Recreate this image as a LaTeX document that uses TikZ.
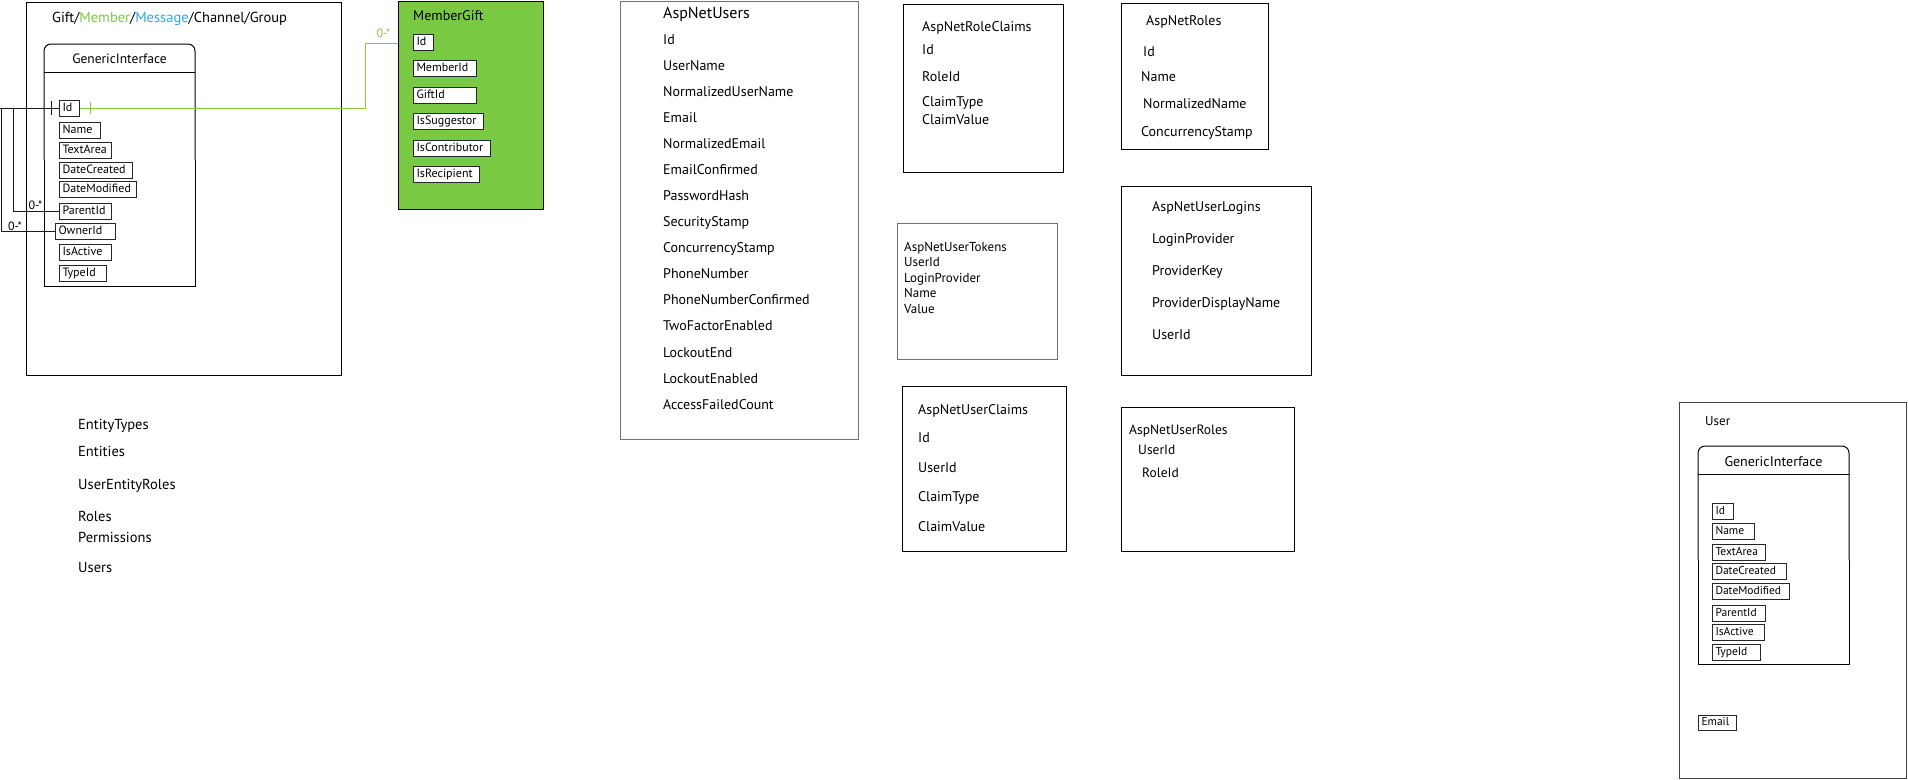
\documentclass[tikz,border=0pt]{standalone}
\usepackage{fontspec}
\setmainfont{PT Sans}
\definecolor{mgreen}{HTML}{7AC943}
\definecolor{mblue}{HTML}{29ABE2}
\definecolor{glinec}{HTML}{8CC63F}
\newcommand\fsz[1]{\fontsize{#1}{#1}\selectfont}
\newcommand\fl[2]{\makebox[#1][l]{#2}}
\begin{document}
\begin{tikzpicture}[x=1pt,y=-1pt,
  lbl/.style={anchor=west, inner sep=0pt, text height=.7em, text depth=0pt, font=\fsz{13.5}},
  ttl/.style={lbl, font=\fsz{14}},
  fbox/.style={draw=black!85, line width=1pt, anchor=west, inner xsep=3pt, inner ysep=0pt,
    minimum height=16pt, text height=.72em, text depth=.12em, font=\fsz{12}},
  tbl/.style={draw, line width=1pt, anchor=north west, inner sep=0pt},
  gi/.style={line width=1pt},
  conn/.style={draw=black!90, line width=1pt},
  gconn/.style={draw=glinec, line width=1pt},
  card/.style={inner sep=0pt, font=\fsz{12}},
]
\useasboundingbox (0,0) rectangle (1908,779);

% ---------- Left group ----------
\node[tbl, minimum width=315pt, minimum height=373pt] (gift) at (25.5,2) {};
\node[lbl, font=\fsz{14.5}] (gtitle) at (52,19) {Gift/\textcolor{mgreen}{Member}/\textcolor{mblue}{Message}/Channel/Group};
\draw[gi, rounded corners=7pt] (44,160) -- (44,44) -- (195,44) -- (195,160);
\draw[gi] (44,160) -- (44,286) -- (195,286) -- (195,160);
\draw[gi] (44,72) -- (195,72);
\node[inner sep=0pt, font=\fsz{13.5}] (gtitle2) at (119.5,59) {GenericInterface};

\node[fbox] (gId) at (59,108) {\fl{14pt}{Id}};
\node[fbox] (gName) at (59,130) {\fl{35pt}{Name}};
\node[fbox] (gText) at (59,150.5) {\fl{46pt}{TextArea}};
\node[fbox] (gDC) at (59,170) {\fl{67pt}{DateCreated}};
\node[fbox] (gDM) at (59,189.5) {\fl{71pt}{DateModified}};
\node[fbox] (gParent) at (59,211) {\fl{46pt}{ParentId}};
\node[fbox] (gOwner) at (55,231) {\fl{54pt}{OwnerId}};
\node[fbox] (gActive) at (59,252) {\fl{46pt}{IsActive}};
\node[fbox] (gType) at (59,273) {\fl{41pt}{TypeId}};

% black self connectors
\coordinate (jo) at (1,0);
\coordinate (ji) at (13,0);
\coordinate (lend) at (0,0);
\draw[conn] (gId.west) -- (gId.west -| lend);
\draw[conn] (gId.west -| jo) -- (jo |- gOwner.west) -- (gOwner.west);
\draw[conn] (gId.west -| ji) -- (ji |- gParent.west) -- (gParent.west);
\draw[conn] ([xshift=-8pt]gId.west) ++(0,-7) -- ++(0,14);
\node[card] (c1) at (35.5,205) {0-*};
\node[card] (c2) at (15,226) {0-*};

% green connector
\node[tbl, minimum width=145pt, minimum height=208pt, fill=mgreen] (mg) at (398,1) {};
\coordinate (gbend) at (365,43);
\draw[gconn] (gId.east) -| (gbend) -- (gbend -| mg.west);
\draw[gconn] ([xshift=10pt]gId.east) ++(0,-6) -- ++(0,12);
\node[card, text=glinec] (c3) at (383.5,33) {0-*};

% ---------- MemberGift ----------
\node[lbl, font=\fsz{14}] (mgt) at (413,17) {MemberGift};
\node[fbox, fill=white] (mId) at (413,42) {\fl{14pt}{Id}};
\node[fbox, fill=white] (mMember) at (413,68.5) {\fl{57pt}{MemberId}};
\node[fbox, fill=white] (mGift) at (413,95) {\fl{57pt}{GiftId}};
\node[fbox, fill=white] (mSugg) at (413,121) {\fl{64pt}{IsSuggestor}};
\node[fbox, fill=white] (mContr) at (413,148) {\fl{71pt}{IsContributor}};
\node[fbox, fill=white] (mRecip) at (413,174.5) {\fl{60pt}{IsRecipient}};

% ---------- AspNetUsers ----------
\node[tbl, draw=black!55, line width=1.3pt, minimum width=238pt, minimum height=438pt] (anu) at (620,1) {};
\node[lbl, font=\fsz{16}] (anut) at (663,15) {AspNetUsers};
\node[lbl, font=\fsz{14}] (u1) at (663,41) {Id};
\node[lbl, font=\fsz{14}] (u2) at (663,67) {UserName};
\node[lbl, font=\fsz{14}] (u3) at (663,93) {NormalizedUserName};
\node[lbl, font=\fsz{14}] (u4) at (663,119) {Email};
\node[lbl, font=\fsz{14}] (u5) at (663,145) {NormalizedEmail};
\node[lbl, font=\fsz{14}] (u6) at (663,171) {EmailConfirmed};
\node[lbl, font=\fsz{14}] (u7) at (663,197) {PasswordHash};
\node[lbl, font=\fsz{14}] (u8) at (663,223) {SecurityStamp};
\node[lbl, font=\fsz{14}] (u9) at (663,249) {ConcurrencyStamp};
\node[lbl, font=\fsz{14}] (u10) at (663,275) {PhoneNumber};
\node[lbl, font=\fsz{14}] (u11) at (663,301) {PhoneNumberConfirmed};
\node[lbl, font=\fsz{14}] (u12) at (663,327) {TwoFactorEnabled};
\node[lbl, font=\fsz{14}] (u13) at (663,354) {LockoutEnd};
\node[lbl, font=\fsz{14}] (u14) at (663,380) {LockoutEnabled};
\node[lbl, font=\fsz{14}] (u15) at (663,406) {AccessFailedCount};

% ---------- AspNetRoleClaims ----------
\node[tbl, minimum width=160pt, minimum height=168pt] (rc) at (903,4) {};
\node[ttl] (rct) at (922,28) {AspNetRoleClaims};
\node[ttl] (rc1) at (922,51) {Id};
\node[ttl] (rc2) at (922,78) {RoleId};
\node[ttl] (rc3) at (922,103) {ClaimType};
\node[ttl] (rc4) at (922,121) {ClaimValue};

% ---------- AspNetRoles ----------
\node[tbl, minimum width=147pt, minimum height=146pt] (ro) at (1121,3) {};
\node[ttl] (rot) at (1146,22) {AspNetRoles};
\node[ttl] (ro1) at (1143,53) {Id};
\node[ttl] (ro2) at (1141,78) {Name};
\node[ttl] (ro3) at (1143,105) {NormalizedName};
\node[ttl] (ro4) at (1141,133) {ConcurrencyStamp};

% ---------- AspNetUserTokens ----------
\node[tbl, draw=black!55, line width=1.3pt, minimum width=160pt, minimum height=136pt] (tk) at (897,223) {};
\node[lbl, font=\fsz{13}] (tkt) at (904,248) {AspNetUserTokens};
\node[lbl, font=\fsz{13}] (tk1) at (904,263) {UserId};
\node[lbl, font=\fsz{13}] (tk2) at (904,279) {LoginProvider};
\node[lbl, font=\fsz{13}] (tk3) at (904,294) {Name};
\node[lbl, font=\fsz{13}] (tk4) at (904,310) {Value};

% ---------- AspNetUserLogins ----------
\node[tbl, minimum width=190pt, minimum height=189pt] (lg) at (1121,186) {};
\node[ttl] (lgt) at (1152,208) {AspNetUserLogins};
\node[ttl] (lg1) at (1152,240) {LoginProvider};
\node[ttl] (lg2) at (1152,272) {ProviderKey};
\node[ttl] (lg3) at (1152,304) {ProviderDisplayName};
\node[ttl] (lg4) at (1152,336) {UserId};

% ---------- AspNetUserClaims ----------
\node[tbl, minimum width=164pt, minimum height=165pt] (uc) at (902,386) {};
\node[ttl] (uct) at (918,411) {AspNetUserClaims};
\node[ttl] (uc1) at (918,439) {Id};
\node[ttl] (uc2) at (918,469) {UserId};
\node[ttl] (uc3) at (918,498) {ClaimType};
\node[ttl] (uc4) at (918,528) {ClaimValue};

% ---------- AspNetUserRoles ----------
\node[tbl, minimum width=173pt, minimum height=144pt] (ur) at (1121,407) {};
\node[lbl, font=\fsz{13.5}] (urt) at (1129,431) {AspNetUserRoles};
\node[lbl, font=\fsz{13.5}] (ur1) at (1138,451) {UserId};
\node[lbl, font=\fsz{13.5}] (ur2) at (1142,474) {RoleId};

% ---------- left list ----------
\node[lbl, font=\fsz{14.5}] (l1) at (78,426) {EntityTypes};
\node[lbl, font=\fsz{14.5}] (l2) at (78,453) {Entities};
\node[lbl, font=\fsz{14.5}] (l3) at (78,486) {UserEntityRoles};
\node[lbl, font=\fsz{14.5}] (l4) at (78,518) {Roles};
\node[lbl, font=\fsz{14.5}] (l5) at (78,539) {Permissions};
\node[lbl, font=\fsz{14.5}] (l6) at (78,569) {Users};

% ---------- User ----------
\node[tbl, draw=black!75, line width=1.2pt, minimum width=227pt, minimum height=376pt] (usr) at (1679,402) {};
\node[lbl, font=\fsz{13}] (usrt) at (1705,422) {User};
\draw[gi, rounded corners=7pt] (1698,560) -- (1698,446) -- (1849,446) -- (1849,560);
\draw[gi] (1698,560) -- (1698,664) -- (1849,664) -- (1849,560);
\draw[gi] (1698,474) -- (1849,474);
\node[inner sep=0pt, font=\fsz{14}] (ugi) at (1773.5,462) {GenericInterface};
\node[fbox, font=\fsz{11.5}] (uId) at (1712,511.5) {\fl{15pt}{Id}};
\node[fbox, font=\fsz{11.5}] (uName) at (1712,531.5) {\fl{36pt}{Name}};
\node[fbox, font=\fsz{11.5}] (uText) at (1712,552) {\fl{47pt}{TextArea}};
\node[fbox, font=\fsz{11.5}] (uDC) at (1712,571) {\fl{68pt}{DateCreated}};
\node[fbox, font=\fsz{11.5}] (uDM) at (1712,591) {\fl{71pt}{DateModified}};
\node[fbox, font=\fsz{11.5}] (uParent) at (1712,613) {\fl{47pt}{ParentId}};
\node[fbox, font=\fsz{11.5}] (uActive) at (1712,632) {\fl{46pt}{IsActive}};
\node[fbox, font=\fsz{11.5}] (uType) at (1712,652) {\fl{42pt}{TypeId}};
\node[fbox, font=\fsz{11.5}, minimum height=15pt] (uEmail) at (1698,722.5) {\fl{32pt}{Email}};
\end{tikzpicture}
\end{document}
